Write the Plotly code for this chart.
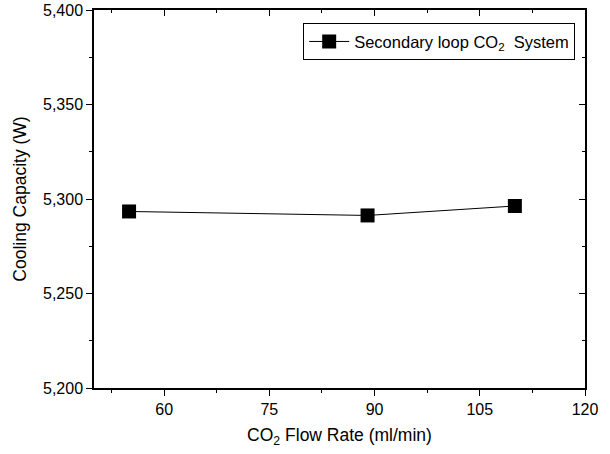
import plotly.graph_objects as go

flow_rate = [55, 89, 110]
cooling_capacity = [5293.4, 5291.3, 5296.3]
x_ticks = [60, 75, 90, 105, 120]
y_ticks = [5200, 5250, 5300, 5350, 5400]
series_name = "Secondary loop CO<sub>2</sub>  System"

FONT = "Liberation Sans, Arial, sans-serif"

fig = go.Figure()
fig.add_trace(go.Scatter(
    x=flow_rate, y=cooling_capacity, mode="lines+markers", name=series_name,
    line=dict(color="black", width=1),
    marker=dict(symbol="square", size=14, color="black"),
    showlegend=True,
))
# invisible trace for mirrored axes
fig.add_trace(go.Scatter(x=flow_rate, y=cooling_capacity, xaxis="x2", yaxis="y2",
                         mode="markers", marker=dict(opacity=0), showlegend=False,
                         hoverinfo="skip"))

common = dict(showline=True, linecolor="black", linewidth=1.5, showgrid=False,
              zeroline=False, tickcolor="black", tickwidth=1.2, automargin=False,
              tickfont=dict(family=FONT, size=16, color="black"))

fig.update_layout(
    width=610, height=454,
    margin=dict(l=94, r=25, t=10, b=66),
    paper_bgcolor="white", plot_bgcolor="white",
    font=dict(family=FONT, color="black"),
    xaxis=dict(range=[50, 120], tickvals=x_ticks, ticks="outside", ticklen=6,
               minor=dict(dtick=7.5, tick0=52.5, ticks="outside", ticklen=3,
                          tickcolor="black", tickwidth=1.2),
               title=dict(text="CO<sub>2</sub> Flow Rate (ml/min)",
                          font=dict(family=FONT, size=17.5), standoff=12),
               **common),
    yaxis=dict(range=[5200, 5400], tickvals=y_ticks, ticks="outside", ticklen=6,
               separatethousands=True, tickformat=",d",
               minor=dict(dtick=25, tick0=5200, ticks="outside", ticklen=3,
                          tickcolor="black", tickwidth=1.2),
               title=dict(text="Cooling Capacity (W)",
                          font=dict(family=FONT, size=17.5), standoff=12),
               **common),
    xaxis2=dict(range=[50, 120], overlaying="x", side="top", anchor="y2",
                tickvals=x_ticks, ticks="inside", ticklen=6, showticklabels=False,
                minor=dict(dtick=7.5, tick0=52.5, ticks="inside", ticklen=3,
                           tickcolor="black", tickwidth=1.2),
                **common),
    yaxis2=dict(range=[5200, 5400], overlaying="y", side="right", anchor="x2",
                tickvals=y_ticks, ticks="inside", ticklen=6, showticklabels=False,
                minor=dict(dtick=25, tick0=5200, ticks="inside", ticklen=3,
                           tickcolor="black", tickwidth=1.2),
                **common),
    legend=dict(x=0.98, y=0.965, xanchor="right", yanchor="top",
                bordercolor="black", borderwidth=1, bgcolor="white",
                font=dict(family=FONT, size=16.5, color="black"),
                itemwidth=40, tracegroupgap=0),
)

fig.write_html("out.html")
